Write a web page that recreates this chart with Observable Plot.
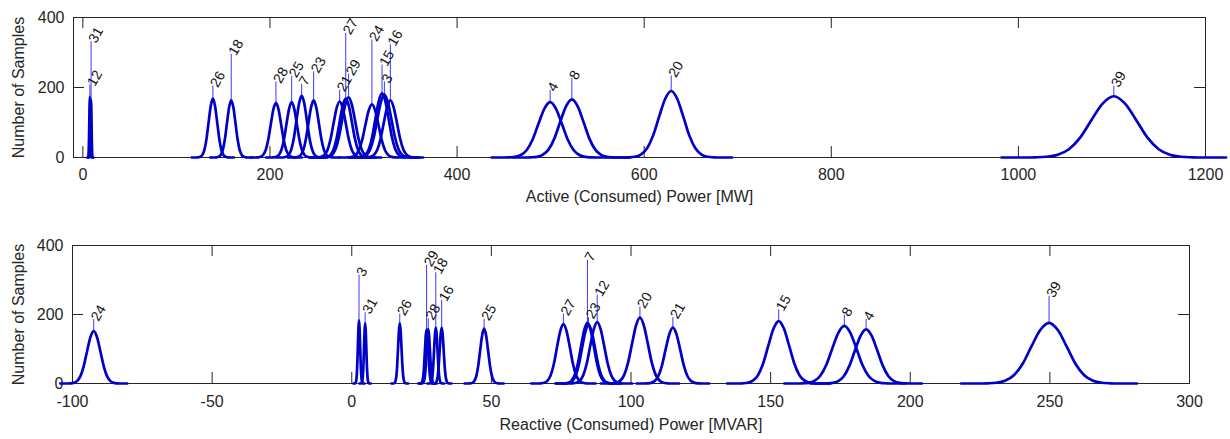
<!DOCTYPE html>
<html>
<head>
<meta charset="utf-8">
<script src="https://cdn.jsdelivr.net/npm/d3@7"></script>
<script src="https://cdn.jsdelivr.net/npm/@observablehq/plot@0.6"></script>
<style>
  body { margin: 0; background: #fff; }
  #chart svg { display: block; }
</style>
</head>
<body>
<div id="chart"></div>
<script>
// ---- Active (consumed) power, per bus: peak position [MW], spread, peak count, label height
const activeBus   = ["12","31","26","18","28","25","7","23","21","27","29","24","15","3","16","4","8","20","39"];
const activeMean  = [7.5, 8.8, 139, 158.6, 206.4, 223.2, 233.9, 246.7, 274.5, 281, 284, 309, 319.8, 322.3, 328.7, 499.5, 522.7, 628.9, 1102];
const activeSd    = [0.6, 0.5, 4.5, 4.5, 5.5, 5.5, 5.5, 5.5, 6.5, 6.5, 7, 7, 7, 7.5, 7, 12.5, 12.5, 13, 24];
const activePeak  = [173, 165, 168, 163, 156, 158, 176, 163, 160, 168, 172, 152, 183, 180, 163, 158, 166, 190, 175];
const activeLabel = [207, 331, 204, 295, 216, 232, 209, 245, 192, 355, 238, 336, 264, 216, 322, 192, 226, 233, 204];

// ---- Reactive (consumed) power, per bus [MVAR]
const reactiveBus   = ["24","3","31","26","29","28","18","16","25","27","7","23","12","20","21","15","8","4","39"];
const reactiveMean  = [-92.4, 2.6, 4.8, 17.2, 26.8, 27.4, 30.1, 32.2, 47.4, 75.8, 84.4, 84.8, 87.9, 103.2, 115, 152.9, 176.4, 184.2, 249.7];
const reactiveSd    = [2.4, 0.4, 0.4, 0.6, 0.6, 0.6, 0.6, 0.7, 1.4, 2.3, 2.3, 2.3, 2.5, 2.8, 2.6, 3.7, 4.3, 4.0, 6.3];
const reactivePeak  = [152, 183, 174, 174, 156, 158, 162, 162, 159, 172, 176, 170, 178, 191, 162, 181, 167, 157, 176];
const reactiveLabel = [185, 314, 205, 201, 343, 188, 321, 241, 186, 201, 357, 191, 256, 222, 191, 214, 198, 186, 253];

// ---- shared histogram outline (offset in spreads, share of peak)
const profileSigma = [-5, -4, -3.5, -3, -2.5, -2, -1.5, -1, -0.5, 0, 0.5, 1, 1.5, 2, 2.5, 3, 3.5, 4, 5];
const profileShare = [0, 0, 0.003, 0.012, 0.045, 0.135, 0.325, 0.61, 0.88, 1, 0.88, 0.61, 0.325, 0.135, 0.045, 0.012, 0.003, 0, 0];

// ---- axes
const activeTicks   = [0, 200, 400, 600, 800, 1000, 1200];
const reactiveTicks = [-100, -50, 0, 50, 100, 150, 200, 250, 300];
const countTicks    = [0, 200, 400];

const FONT = "'Liberation Sans', Arial, Helvetica, sans-serif";
const INK = "#262626";

function panel(o) {
  const curves = [];
  o.bus.forEach((b, i) => profileSigma.forEach((s, j) =>
    curves.push({bus: b, x: o.mean[i] + s * o.sd[i], y: o.peak[i] * profileShare[j]})));
  const stems = o.bus.map((b, i) => ({bus: b, x: o.mean[i], y1: o.peak[i], y2: o.label[i]}));
  const innerW = o.width - o.ml - o.mr;
  const innerH = o.height - o.mt - o.mb;
  const tl = 11;
  return Plot.plot({
    width: o.width, height: o.height,
    marginTop: o.mt, marginBottom: o.mb, marginLeft: o.ml, marginRight: o.mr,
    style: {fontFamily: FONT, fontSize: "16px", color: INK, background: "#fff", overflow: "visible"},
    x: {domain: o.xDomain},
    y: {domain: [0, 400]},
    marks: [
      Plot.frame({stroke: INK}),
      Plot.tickX(o.xTicks, {x: d => d, insetTop: innerH - tl, stroke: INK}),
      Plot.tickX(o.xTicks, {x: d => d, insetBottom: innerH - tl, stroke: INK}),
      Plot.tickY(countTicks, {y: d => d, insetRight: innerW - tl, stroke: INK}),
      Plot.tickY(countTicks, {y: d => d, insetLeft: innerW - tl, stroke: INK}),
      Plot.axisX({ticks: o.xTicks, tickSize: 0, tickPadding: o.xPad, label: null, tickFormat: d => `${d}`, fontSize: 16}),
      Plot.axisY({ticks: countTicks, tickSize: 0, tickPadding: 9, label: null, tickFormat: d => `${d}`, fontSize: 16}),
      Plot.ruleX(stems, {x: "x", y1: "y1", y2: "y2", stroke: "#3a3aff", strokeWidth: 1}),
      Plot.line(curves, {x: "x", y: "y", z: "bus", curve: "monotone-x", stroke: "#0000c8", strokeWidth: 2.7}),
      Plot.text(stems, {x: "x", y: "y2", text: "bus", rotate: -60, textAnchor: "start", lineAnchor: "middle", fontSize: 14, dx: 1, fill: "#111"}),
      Plot.text([o.xTitle], {frameAnchor: "bottom", text: d => d, dy: o.titleDy, textAnchor: "middle", lineAnchor: "middle", fontSize: 16, fill: INK}),
      Plot.text(["Number of Samples"], {frameAnchor: "left", text: d => d, rotate: -90, dx: 18 - o.ml, textAnchor: "middle", lineAnchor: "middle", fontSize: 16, fill: INK})
    ]
  });
}

const topPanel = panel({
  bus: activeBus, mean: activeMean, sd: activeSd, peak: activePeak, label: activeLabel,
  xDomain: [-10, 1200], xTicks: activeTicks, xTitle: "Active (Consumed) Power [MW]",
  width: 1230, height: 220, mt: 17, mb: 63, ml: 73, mr: 25, xPad: 11, titleDy: 39
});
const bottomPanel = panel({
  bus: reactiveBus, mean: reactiveMean, sd: reactiveSd, peak: reactivePeak, label: reactiveLabel,
  xDomain: [-100, 300], xTicks: reactiveTicks, xTitle: "Reactive (Consumed) Power [MVAR]",
  width: 1230, height: 219, mt: 25, mb: 56, ml: 72, mr: 41, xPad: 12, titleDy: 41
});
document.getElementById("chart").append(topPanel, bottomPanel);
</script>
</body>
</html>
